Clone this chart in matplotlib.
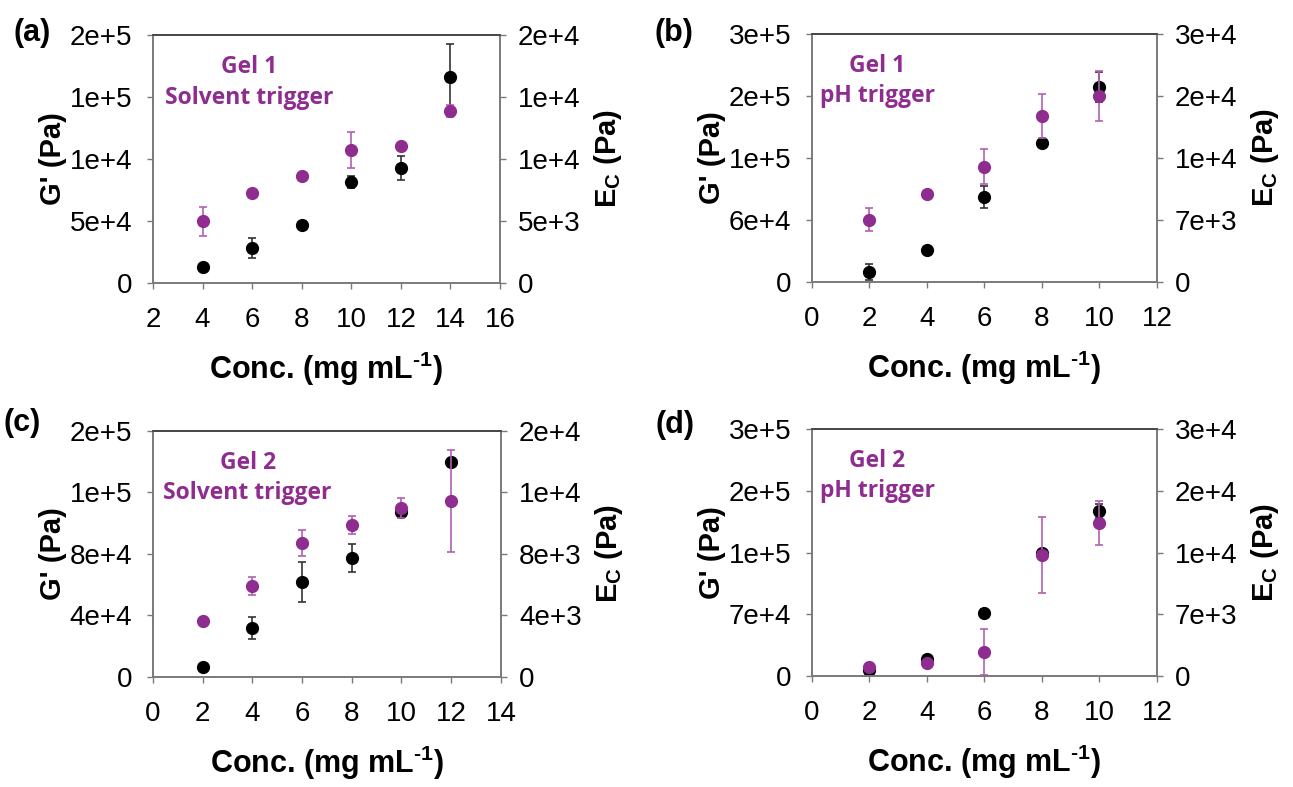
import matplotlib
matplotlib.use('Agg')
import matplotlib.pyplot as plt

plt.rcParams['font.family'] = ['Liberation Sans', 'DejaVu Sans']
plt.rcParams['mathtext.fontset'] = 'custom'
plt.rcParams['mathtext.rm'] = 'Liberation Sans:bold'
plt.rcParams['mathtext.bf'] = 'Liberation Sans:bold'

PURPLE = '#8e2c8f'
PURPLE_ERR = '#b160b3'

# concentrations (mg/mL)
conc_a = [4, 6, 8, 10, 12, 14]
conc_b = [2, 4, 6, 8, 10]
conc_c = [2, 4, 6, 8, 10, 12]
conc_d = [2, 4, 6, 8, 10]

# G' (black, left axis)
g_a = [1.3e4, 2.82e4, 4.68e4, 8.15e4, 9.27e4, 1.66e5]
g_a_err = [1600, 8000, 1600, 5200, 9700, 26600]
g_b = [1.05e4, 3.35e4, 8.91e4, 1.457e5, 2.04e5]
g_b_err = [8400, 3100, 11500, 2100, 15700]
g_c = [6.5e3, 3.19e4, 6.18e4, 7.74e4, 1.073e5, 1.398e5]
g_c_err = [650, 7150, 13000, 9400, 3250, 2000]
g_d = [6.8e3, 1.93e4, 7.14e4, 1.394e5, 1.87e5]
g_d_err = [3400, 2300, 4500, 2300, 7900]

# Ec (purple, right axis)
e_a = [5.0e3, 7.26e3, 8.63e3, 1.07e4, 1.105e4, 1.387e4]
e_a_err = [1170, 160, 160, 1450, 240, 480]
e_b = [7.0e3, 9.94e3, 1.30e4, 1.874e4, 2.1e4]
e_b_err = [1300, 230, 1980, 2490, 2830]
e_c = [3.64e3, 5.92e3, 8.72e3, 9.89e3, 1.099e4, 1.145e4]
e_c_err = [130, 585, 845, 585, 680, 3300]
e_d = [1.02e3, 1.47e3, 2.72e3, 1.372e4, 1.734e4]
e_d_err = [230, 230, 2600, 4300, 2500]

# axis ranges and tick label texts as printed
xlim_a, xticks_a = (2, 16), [2, 4, 6, 8, 10, 12, 14, 16]
xlim_b, xticks_b = (0, 12), [0, 2, 4, 6, 8, 10, 12]
xlim_c, xticks_c = (0, 14), [0, 2, 4, 6, 8, 10, 12, 14]
xlim_d, xticks_d = (0, 12), [0, 2, 4, 6, 8, 10, 12]

gmax = [2e5, 2.6e5, 1.6e5, 2.8e5]
emax = [2e4, 2.8e4, 1.6e4, 2.8e4]
gl_a = ['0', '5e+4', '1e+4', '1e+5', '2e+5']
el_a = ['0', '5e+3', '1e+4', '1e+4', '2e+4']
gl_b = ['0', '6e+4', '1e+5', '2e+5', '3e+5']
el_b = ['0', '7e+3', '1e+4', '2e+4', '3e+4']
gl_c = ['0', '4e+4', '8e+4', '1e+5', '2e+5']
el_c = ['0', '4e+3', '8e+3', '1e+4', '2e+4']
gl_d = ['0', '7e+4', '1e+5', '2e+5', '3e+5']
el_d = ['0', '7e+3', '1e+4', '2e+4', '3e+4']

panels = [
    ('(a)', 'Gel 1', 'Solvent trigger', conc_a, g_a, g_a_err, e_a, e_a_err, xlim_a, xticks_a, gl_a, el_a),
    ('(b)', 'Gel 1', 'pH trigger', conc_b, g_b, g_b_err, e_b, e_b_err, xlim_b, xticks_b, gl_b, el_b),
    ('(c)', 'Gel 2', 'Solvent trigger', conc_c, g_c, g_c_err, e_c, e_c_err, xlim_c, xticks_c, gl_c, el_c),
    ('(d)', 'Gel 2', 'pH trigger', conc_d, g_d, g_d_err, e_d, e_d_err, xlim_d, xticks_d, gl_d, el_d),
]

rects = [
    [0.1183, 0.6404, 0.2684, 0.3151],
    [0.628, 0.6417, 0.2668, 0.3151],
    [0.1183, 0.1398, 0.2691, 0.3126],
    [0.628, 0.141, 0.2668, 0.3139],
]
text_x = [0.277, 0.19, 0.272, 0.19]
letter_pos = [(0.025, 0.958), (0.521, 0.958), (0.017, 0.462), (0.522, 0.46)]

fig = plt.figure(figsize=(12.93, 7.87), dpi=100)

for i, (tag, gel, trig, x, g, gerr, e, eerr, xlim, xticks, glab, elab) in enumerate(panels):
    ax = fig.add_axes(rects[i])
    ax2 = ax.twinx()
    ax.errorbar(x, g, yerr=gerr, fmt='o', color='black', ecolor='#333333',
                markersize=8.5, elinewidth=1.2, capsize=3, capthick=1.2)
    ax2.errorbar(x, e, yerr=eerr, fmt='o', color=PURPLE, ecolor=PURPLE_ERR,
                 markersize=8.5, elinewidth=1.2, capsize=3, capthick=1.2)
    ax.set_xlim(*xlim)
    ax.set_xticks(xticks)
    ax.set_ylim(0, gmax[i])
    ax.set_yticks([gmax[i] * k / 4 for k in range(5)])
    ax.set_yticklabels(glab)
    ax2.set_ylim(0, emax[i])
    ax2.set_yticks([emax[i] * k / 4 for k in range(5)])
    ax2.set_yticklabels(elab)

    for a in (ax, ax2):
        for s in a.spines.values():
            s.set_color('#7a7a7a')
            s.set_linewidth(1.2)
        a.spines['top'].set_color('#444444')
    ax.tick_params(axis='x', direction='out', length=4, width=1, color='#7a7a7a',
                   labelsize=20, pad=13)
    ax.tick_params(axis='y', direction='out', length=4, width=1, color='#7a7a7a',
                   labelsize=20, pad=11)
    ax2.tick_params(axis='y', direction='out', length=4, width=1, color='#7a7a7a',
                    labelsize=20, pad=9)

    ax.set_xlabel(r'Conc. (mg mL$^{\text{-1}}$)', fontsize=22, fontweight='bold', labelpad=12)
    ax.set_ylabel("G' (Pa)", fontsize=21, fontweight='bold', labelpad=2)
    ax2.set_ylabel(r'E$_\mathrm{C}$ (Pa)', fontsize=21, fontweight='bold', labelpad=8)

    ax.text(text_x[i], 0.87, gel, transform=ax.transAxes, ha='center', va='center',
            color=PURPLE, fontsize=16.5, fontweight='bold', family=['Open Sans', 'DejaVu Sans'])
    ax.text(text_x[i], 0.748, trig, transform=ax.transAxes, ha='center', va='center',
            color=PURPLE, fontsize=16.5, fontweight='bold', family=['Open Sans', 'DejaVu Sans'])
    fig.text(letter_pos[i][0], letter_pos[i][1], tag, ha='center', va='center',
             fontsize=22, fontweight='bold')

fig.savefig('out.png', dpi=100)
